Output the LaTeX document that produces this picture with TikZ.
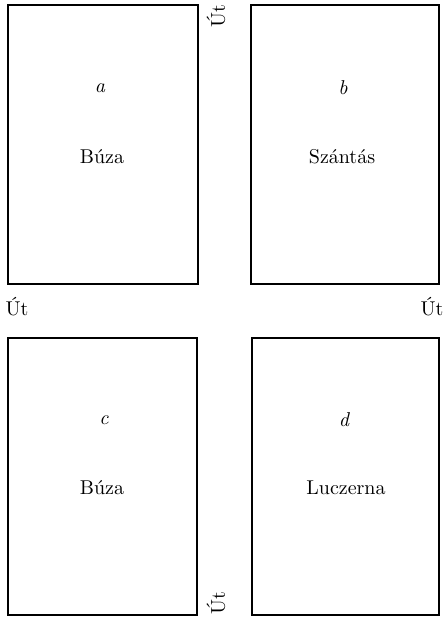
\documentclass[tikz,border=0pt]{standalone}
\usepackage{fontspec}
\begin{document}
\begin{tikzpicture}[x=0.5pt,y=-0.5pt,
  field/.style={draw, line width=1.1pt, inner sep=0pt},
  letter/.style={font=\itshape},
  crop/.style={font=\normalsize},
  road/.style={font=\normalsize}]
\useasboundingbox (0,0) rectangle (446,617);
\node[field, minimum width=95pt, minimum height=139.5pt] (A) at (103,144.5) {};
\node[field, minimum width=94pt, minimum height=139.5pt] (B) at (345,144.5) {};
\node[field, minimum width=94.5pt, minimum height=138.5pt] (C) at (102.5,476.5) {};
\node[field, minimum width=93.5pt, minimum height=138.5pt] (D) at (345.5,476.5) {};
\node[letter] (la) at (100,88) {a};
\node[crop] (ca) at (102,157) {Búza};
\node[letter] (lb) at (343,88) {b};
\node[crop] (cb) at (342,157) {Szántás};
\node[letter] (lc) at (104,420) {c};
\node[crop] (cc) at (102,488) {Búza};
\node[letter] (ld) at (344,420) {d};
\node[crop] (cd) at (346,488) {Luczerna};
\node[road, rotate=90] (r1) at (216,16) {Út};
\node[road, rotate=90] (r2) at (216,603) {Út};
\node[road] (r3) at (17,307) {Út};
\node[road] (r4) at (432,307) {Út};
\end{tikzpicture}
\end{document}
